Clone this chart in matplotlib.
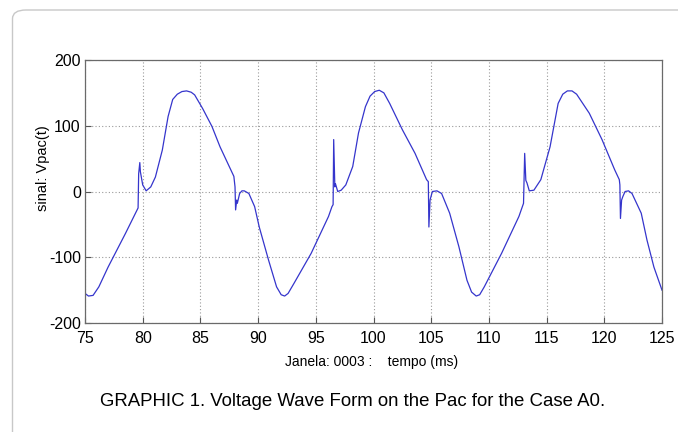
import matplotlib

matplotlib.use("Agg")
import matplotlib.pyplot as plt
from matplotlib.patches import FancyBboxPatch

# waveform (time in ms, voltage)
tempo = [75.0, 75.3, 75.7, 76.2, 77.0, 78.5, 79.6, 79.65, 79.75, 79.8, 80.0, 80.3,
         80.7, 81.1, 81.7, 82.2, 82.6, 83.0, 83.4, 83.8, 84.2, 84.5, 85.2, 86.0,
         86.7, 87.5, 87.9, 88.0, 88.05, 88.15, 88.2, 88.4, 88.6, 88.8, 89.2, 89.7,
         90.1, 90.9, 91.6, 92.0, 92.3, 92.6, 93.1, 94.6, 96.1, 96.4, 96.5, 96.55,
         96.65, 96.7, 96.9, 97.2, 97.6, 98.2, 98.7, 99.3, 99.7, 100.1, 100.5,
         100.9, 101.4, 102.5, 103.6, 104.6, 104.75, 104.8, 104.9, 105.1, 105.5,
         105.9, 106.6, 107.4, 108.1, 108.5, 108.9, 109.2, 109.6, 111.1, 112.6,
         113.0, 113.05, 113.1, 113.2, 113.3, 113.5, 113.9, 114.5, 115.3, 116.0,
         116.4, 116.8, 117.2, 117.6, 118.7, 119.8, 120.9, 121.3, 121.35, 121.4,
         121.5, 121.6, 121.8, 122.1, 122.4, 123.2, 123.7, 124.3, 125.0]
vpac = [-155, -159, -158, -145, -115, -64, -25, 27, 44, 30, 10, 1,
        7, 22, 63, 114, 140, 148, 152, 153, 151, 147, 126, 99,
        68, 38, 23, 7, -28, -13, -18, -3, 1, 1, -3, -23,
        -54, -104, -145, -157, -159, -155, -140, -94, -38, -23, -20, 79,
        7, 12, 0, 2, 10, 38, 89, 129, 145, 152, 154,
        150, 134, 94, 58, 18, 15, -54, -13, 0, 1,
        -3, -33, -84, -135, -153, -159, -157, -145, -94, -38,
        -18, 20, 58, 17, 13, 1, 2, 18, 68, 134,
        148, 153, 153, 148, 119, 79, 33, 18, 10, -41,
        -13, -8, 0, 1, -3, -33, -74, -115, -150]

x_ticks = list(range(75, 126, 5))
y_ticks = [-200, -100, 0, 100, 200]
caption = "GRAPHIC 1. Voltage Wave Form on the Pac for the Case A0."

plt.rcParams["font.family"] = ["Liberation Sans", "DejaVu Sans"]
plt.rcParams["axes.unicode_minus"] = False

fig = plt.figure(figsize=(6.78, 4.32), dpi=100)
frame = FancyBboxPatch((12.5 / 678, -0.1), 1.2, 1.1 - 10 / 432,
                       boxstyle="round,pad=0,rounding_size=0.02",
                       transform=fig.transFigure, fc="white",
                       ec="#c8c8c8", lw=1.0, zorder=-5)
fig.patches.append(frame)

ax = fig.add_axes([85 / 678, 1 - 323 / 432, 577 / 678, 263 / 432])
ax.set_zorder(2)
ax.plot(tempo, vpac, color="#3535cc", lw=0.9)
ax.set_xlim(75, 125)
ax.set_ylim(-200, 200)
ax.set_xticks(x_ticks)
ax.set_yticks(y_ticks)
ax.grid(True, color="#9a9a9a", ls=(0, (1, 2)), lw=0.8)
ax.tick_params(direction="in", length=4, color="#555555", labelsize=11.5)
ax.tick_params(axis="x", pad=6)
ax.tick_params(axis="y", pad=3)
for s in ax.spines.values():
    s.set_color("#6a6a6a")
    s.set_linewidth(0.9)

ax.set_xlabel("Janela: 0003 :    tempo (ms)", fontsize=10)
ax.xaxis.set_label_coords(0.497, -0.12)
ax.set_ylabel("sinal: Vpac(t)", fontsize=10.5)
ax.yaxis.set_label_coords(-0.073, 0.59)
ax.yaxis.label.set_va("center")

fig.text(353 / 678, 1 - 402 / 432, caption, ha="center", va="center", fontsize=13.4)

fig.savefig("out.png", dpi=100)
plt.close(fig)
